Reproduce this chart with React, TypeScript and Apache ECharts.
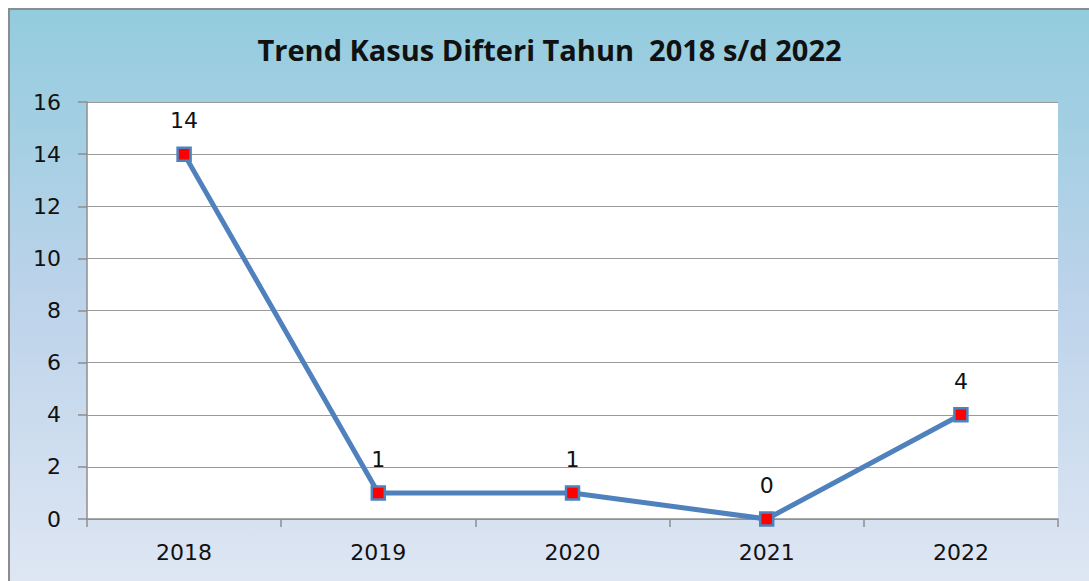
import React, { useEffect, useRef } from "react";
import * as echarts from "echarts";

const categories = ["2018", "2019", "2020", "2021", "2022"];
const kasus = [14, 1, 1, 0, 4];
const titleText = "Trend Kasus Difteri Tahun  2018 s/d 2022";

export default function App() {
  const ref = useRef<HTMLDivElement>(null);
  useEffect(() => {
    if (!ref.current) return;
    const chart = echarts.init(ref.current, null, { renderer: "svg" });
    const font = "'DejaVu Sans', sans-serif";
    chart.setOption({
      animation: false,
      backgroundColor: {
        type: "linear",
        x: 0,
        y: 0,
        x2: 0,
        y2: 1,
        colorStops: [
          { offset: 0, color: "#93CCDE" },
          { offset: 0.5, color: "#BCD3EA" },
          { offset: 1, color: "#DEE6F3" },
        ],
      },
      title: {
        text: titleText,
        left: "center",
        top: 20,
        textStyle: { fontFamily: "'Open Sans', sans-serif", fontSize: 29, fontWeight: "bold", color: "#111" },
      },
      grid: { left: 77, right: 31, top: 92, bottom: 62, show: true, backgroundColor: "#fff", borderWidth: 0 },
      xAxis: {
        type: "category",
        data: categories,
        boundaryGap: true,
        axisLine: { show: true, lineStyle: { color: "#8E8E8E", width: 1.5 } },
        axisTick: { show: true, length: 8, lineStyle: { color: "#8E8E8E", width: 1.5 } },
        axisLabel: { fontFamily: font, fontSize: 22, color: "#111", margin: 22 },
      },
      yAxis: {
        type: "value",
        min: 0,
        max: 16,
        interval: 2,
        axisLine: { show: true, lineStyle: { color: "#8E8E8E", width: 1.5 } },
        axisTick: { show: true, length: 9, lineStyle: { color: "#8E8E8E", width: 1.5 } },
        axisLabel: { fontFamily: font, fontSize: 22, color: "#111", margin: 26 },
        splitLine: { show: true, lineStyle: { color: "#9A9A9A", width: 1.2 } },
      },
      series: [
        {
          type: "line",
          data: kasus,
          symbol: "rect",
          symbolSize: 13,
          lineStyle: { color: "#4F81BD", width: 5 },
          itemStyle: { color: "#FF0000", borderColor: "#4F81BD", borderWidth: 2.5 },
          label: {
            show: true,
            position: "top",
            distance: 15,
            fontFamily: font,
            fontSize: 22,
            color: "#111",
          },
        },
      ],
    });
    return () => chart.dispose();
  }, []);
  return (
    <div style={{ position: "fixed", left: 0, top: 0, width: 1089, height: 581, overflow: "hidden", background: "#fff" }}>
      <div
        style={{
          position: "absolute",
          left: 8,
          top: 8,
          width: 1081,
          height: 573,
          boxSizing: "border-box",
          borderLeft: "2px solid #8C8C8C",
          borderTop: "2px solid #8C8C8C",
        }}
      >
        <div ref={ref} style={{ width: 1079, height: 571 }} />
      </div>
    </div>
  );
}
